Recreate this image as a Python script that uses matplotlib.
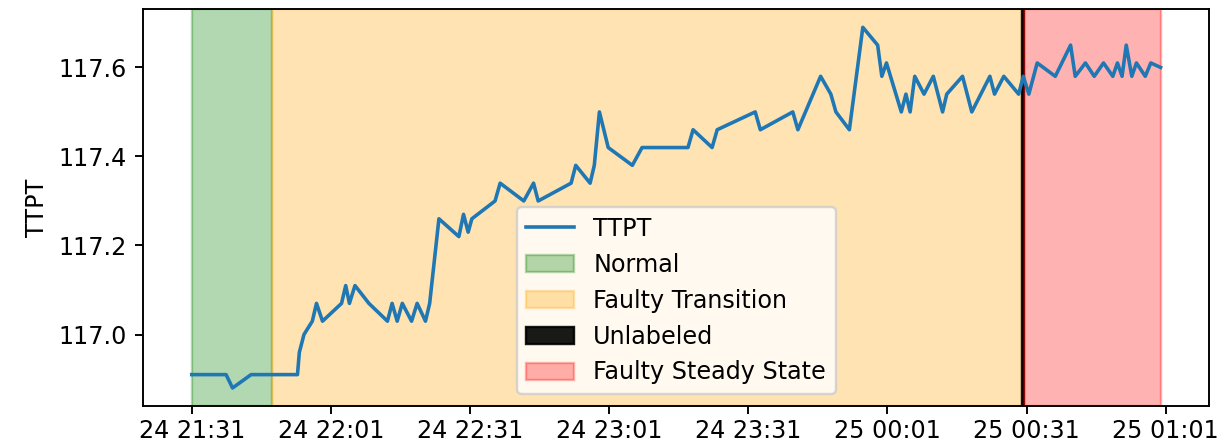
import matplotlib
matplotlib.use("Agg")
import matplotlib.pyplot as plt
import matplotlib.dates as mdates
import pandas as pd
import numpy as np

# ---- data ----
start_time = "2021-01-24 21:31:00"
minutes = [0.0, 7.4, 8.8, 12.8, 22.8, 23.2, 24.2, 26.0, 26.9, 28.2, 32.3, 33.2, 34.0, 35.2,
           38.2, 42.2, 43.2, 44.3, 45.4, 47.4, 48.6, 50.4, 51.3, 53.3, 57.6, 58.6, 59.6,
           60.4, 65.4, 66.5, 71.6, 73.7, 74.7, 81.8, 82.8, 85.9, 86.8, 87.9, 89.8, 95.0,
           97.1, 107.0, 108.1, 112.2, 113.3, 121.5, 122.6, 129.6, 130.7, 135.6, 137.8,
           138.9, 141.8, 144.7, 147.9, 148.8, 149.8, 153.0, 154.0, 154.9, 155.9, 157.9,
           159.9, 161.9, 162.8, 166.2, 168.2, 172.1, 173.1, 175.1, 178.3, 179.3, 180.5,
           182.3, 186.2, 189.5, 190.5, 192.7, 194.6, 196.6, 198.6, 199.6, 200.6, 201.5,
           202.7, 203.7, 205.6, 206.8, 208.9]
ttpt = [116.91, 116.91, 116.88, 116.91, 116.91, 116.96, 117.00, 117.03, 117.07, 117.03,
        117.07, 117.11, 117.07, 117.11, 117.07, 117.03, 117.07, 117.03, 117.07, 117.03,
        117.07, 117.03, 117.07, 117.26, 117.22, 117.27, 117.23, 117.26, 117.30, 117.34,
        117.30, 117.34, 117.30, 117.34, 117.38, 117.34, 117.38, 117.50, 117.42, 117.38,
        117.42, 117.42, 117.46, 117.42, 117.46, 117.50, 117.46, 117.50, 117.46, 117.58,
        117.54, 117.50, 117.46, 117.69, 117.65, 117.58, 117.61, 117.50, 117.54, 117.50,
        117.58, 117.54, 117.58, 117.50, 117.54, 117.58, 117.50, 117.58, 117.54, 117.58,
        117.54, 117.58, 117.54, 117.61, 117.58, 117.65, 117.58, 117.61, 117.58, 117.61,
        117.58, 117.61, 117.58, 117.65, 117.58, 117.61, 117.58, 117.61, 117.60]

# label regions (minutes from start)
region_labels = ["Normal", "Faulty Transition", "Unlabeled", "Faulty Steady State"]
region_starts = [0.0, 17.4, 179.0, 179.4]
region_ends = [17.4, 179.0, 179.4, 208.9]
region_colors = ["green", "orange", "black", "red"]
region_alphas = [0.3, 0.3, 0.9, 0.3]

tick_minutes = [0, 30, 60, 90, 120, 150, 180, 210]

# ---- plot ----
t0 = pd.Timestamp(start_time)
times = [t0 + pd.Timedelta(minutes=m) for m in minutes]

dpi = 172
fig = plt.figure(figsize=(1227 / dpi, 444 / dpi), dpi=dpi)
ax = fig.add_axes([143.3 / 1227, 1 - 406 / 444, (1209 - 143.3) / 1227, (406 - 9.3) / 444])

ax.plot(times, ttpt, label="TTPT", color="#1f77b4", linewidth=1.5)
for lab, s, e, c, a in zip(region_labels, region_starts, region_ends, region_colors, region_alphas):
    ax.axvspan(t0 + pd.Timedelta(minutes=s), t0 + pd.Timedelta(minutes=e), color=c, alpha=a, label=lab)

ax.set_xticks([t0 + pd.Timedelta(minutes=m) for m in tick_minutes])
ax.xaxis.set_major_formatter(mdates.DateFormatter("%d %H:%M"))
ax.tick_params(axis="x", pad=2)
ax.set_yticks([117.0, 117.2, 117.4, 117.6])
ax.set_ylabel("TTPT")
ax.legend(loc="lower center")

fig.savefig("out.png", dpi=dpi)
